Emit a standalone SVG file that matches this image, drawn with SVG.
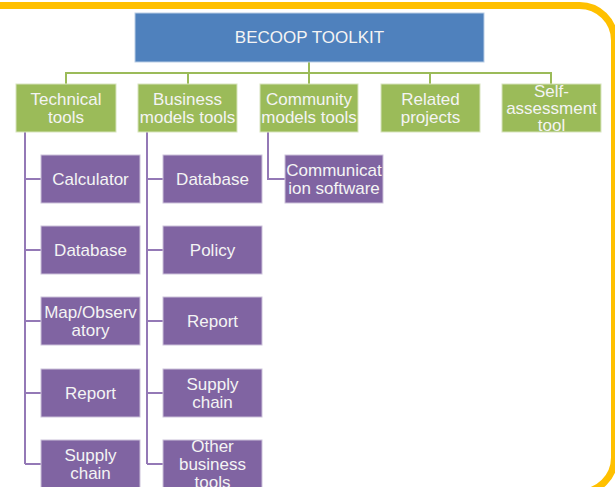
<svg xmlns="http://www.w3.org/2000/svg" width="615" height="487" viewBox="0 0 615 487">
<style>
text{font-family:"Liberation Sans",Arial,sans-serif;font-size:17px;fill:#F4F4F4;text-anchor:middle}
.g{fill:#9BBB59;stroke:#D7E4BD;stroke-width:1}
.p{fill:#8064A2;stroke:#CCC1DA;stroke-width:1}
.b{fill:#4F81BD;stroke:#B9CDE5;stroke-width:1}
.cg{fill:none;stroke:#9BBB59;stroke-width:2}
.cp{fill:none;stroke:#9479B6;stroke-width:2}
</style>
<rect width="615" height="487" fill="#FFFFFF"/>
<path d="M -10 5.5 H 579 A 35 35 0 0 1 614.5 40.5 V 457 A 35 35 0 0 1 579 492.5 H -10" fill="#FFFFFF" stroke="#FFC000" stroke-width="7"/>
<g id="connectors">
<path class="cg" d="M309 62 V73 M66 84 V73 H551 V84 M188 73 V84 M309 73 V84 M430 73 V84"/>
<path class="cp" d="M25 132 V464 M25 179 H41 M25 250 H41 M25 321 H41 M25 393 H41 M25 464 H41"/>
<path class="cp" d="M147 132 V464 M147 179 H163 M147 250 H163 M147 321 H163 M147 393 H163 M147 464 H163"/>
<path class="cp" d="M268 132 V179 H285"/>
</g>
<g id="root"><rect class="b" x="135" y="13" width="349" height="49"/><text x="309.5" y="43">BECOOP TOOLKIT</text></g>
<g id="technical"><rect class="g" x="16" y="84" width="100" height="48"/><text x="66" y="105">Technical</text><text x="66" y="123">tools</text></g>
<g id="business"><rect class="g" x="138" y="84" width="99" height="48"/><text x="187.5" y="105">Business</text><text x="187.5" y="123">models tools</text></g>
<g id="community"><rect class="g" x="260" y="84" width="98" height="48"/><text x="309" y="105">Community</text><text x="309" y="123">models tools</text></g>
<g id="related"><rect class="g" x="381" y="84" width="99" height="48"/><text x="430.5" y="105">Related</text><text x="430.5" y="123">projects</text></g>
<g id="self"><rect class="g" x="502" y="84" width="99" height="48"/><text x="551.5" y="97">Self-</text><text x="551.5" y="114">assessment</text><text x="551.5" y="131">tool</text></g>
<g id="t-calculator"><rect class="p" x="41" y="155" width="99" height="48"/><text x="90.5" y="185">Calculator</text></g>
<g id="t-database"><rect class="p" x="41" y="226" width="99" height="48"/><text x="90.5" y="256">Database</text></g>
<g id="t-map"><rect class="p" x="41" y="297" width="99" height="48"/><text x="90.5" y="318">Map/Observ</text><text x="90.5" y="336">atory</text></g>
<g id="t-report"><rect class="p" x="41" y="369" width="99" height="48"/><text x="90.5" y="399">Report</text></g>
<g id="t-supply"><rect class="p" x="41" y="440" width="99" height="48"/><text x="90.5" y="461">Supply</text><text x="90.5" y="479">chain</text></g>
<g id="b-database"><rect class="p" x="163" y="155" width="99" height="48"/><text x="212.5" y="185">Database</text></g>
<g id="b-policy"><rect class="p" x="163" y="226" width="99" height="48"/><text x="212.5" y="256">Policy</text></g>
<g id="b-report"><rect class="p" x="163" y="297" width="99" height="48"/><text x="212.5" y="327">Report</text></g>
<g id="b-supply"><rect class="p" x="163" y="369" width="99" height="48"/><text x="212.5" y="390">Supply</text><text x="212.5" y="408">chain</text></g>
<g id="b-other"><rect class="p" x="163" y="440" width="99" height="48"/><text x="212.5" y="452">Other</text><text x="212.5" y="470">business</text><text x="212.5" y="488">tools</text></g>
<g id="c-comm"><rect class="p" x="285" y="155" width="98" height="48"/><text x="334" y="176">Communicat</text><text x="334" y="194">ion software</text></g>
</svg>
